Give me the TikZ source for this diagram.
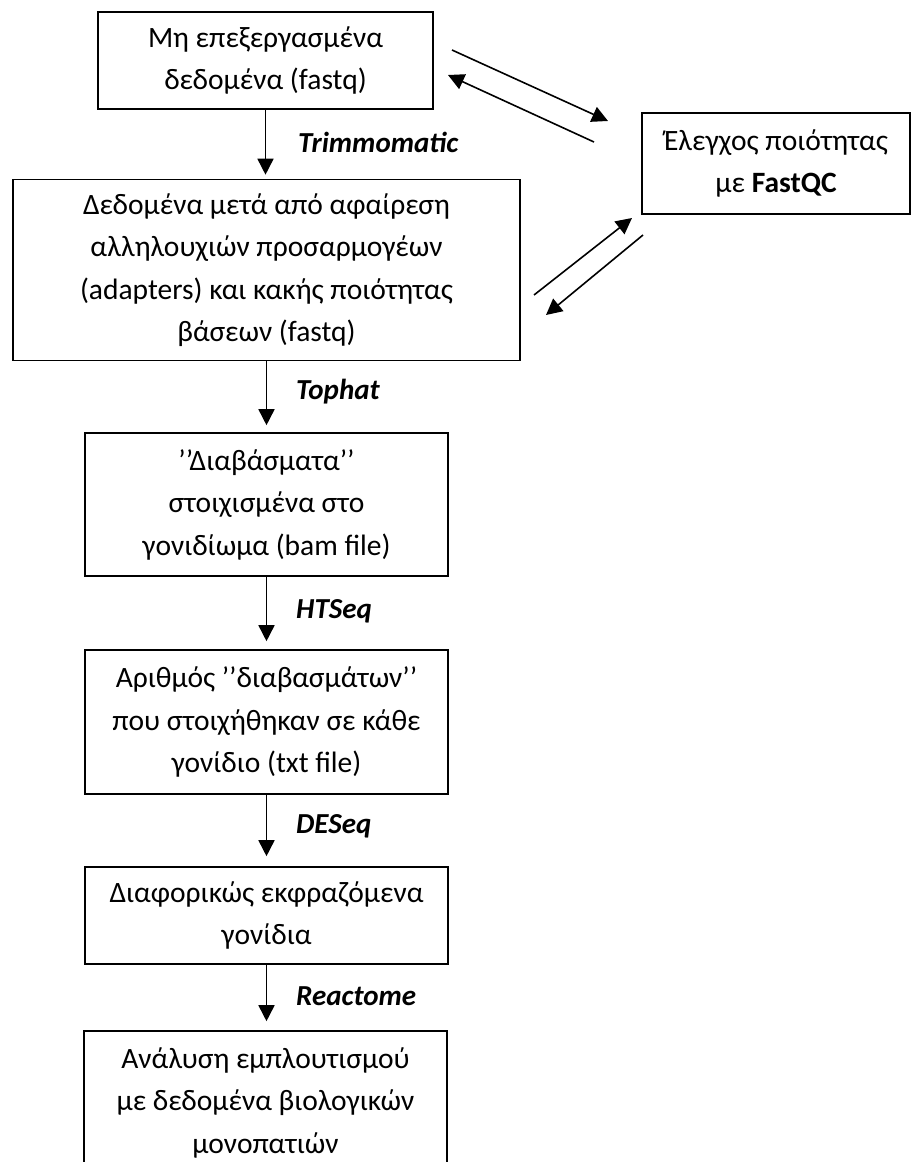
\documentclass[tikz,border=0pt]{standalone}
\usepackage{fontspec}
\setmainfont{Carlito}
\usetikzlibrary{arrows.meta}
\begin{document}
\begin{tikzpicture}[x=1pt,y=-1pt,
  box/.style={draw, line width=1.6pt, align=center, inner sep=0pt, font=\fontsize{29.5}{42.5}\selectfont},
  arr/.style={line width=1.6pt, -{Triangle[length=16pt,width=16pt]}},
  lbl/.style={font=\fontsize{29}{34}\selectfont\bfseries\itshape, anchor=base west, inner sep=0pt}]
\useasboundingbox (0,0) rectangle (911,1162);
\clip (0,0) rectangle (911,1162);
\node[box, minimum width=335pt, minimum height=97pt] (b1) at (265.5,60.5) {Μη επεξεργασμένα\\δεδομένα (fastq)};
\node[box, minimum width=507pt, minimum height=181pt] (b2) at (266.5,270) {Δεδομένα μετά από αφαίρεση\\αλληλουχιών προσαρμογέων\\(adapters) και κακής ποιότητας\\βάσεων (fastq)};
\node[box, minimum width=363pt, minimum height=143pt] (b3) at (266.5,504.5) {’\kern0pt’Διαβάσματα’\kern0pt’\\στοιχισμένα στο\\γονιδίωμα (bam file)};
\node[box, minimum width=363pt, minimum height=144pt] (b4) at (266.5,722) {Αριθμός ’\kern0pt’διαβασμάτων’\kern0pt’\\που στοιχήθηκαν σε κάθε\\γονίδιο (txt file)};
\node[box, minimum width=363pt, minimum height=97pt] (b5) at (266.5,915.5) {Διαφορικώς εκφραζόμενα\\γονίδια};
\node[box, minimum width=363pt, minimum height=143pt] (b6) at (265.5,1102.5) {Ανάλυση εμπλουτισμού\\με δεδομένα βιολογικών\\μονοπατιών};
\node[box, minimum width=268pt, minimum height=101pt] (fq) at (776,163.5) {Έλεγχος ποιότητας\\με \textbf{FastQC}};
\node[lbl] (l1) at (298,152) {Trimmomatic};
\node[lbl] (l2) at (296,399) {Tophat};
\node[lbl] (l3) at (296,618) {HTSeq};
\node[lbl] (l4) at (296,833) {DESeq};
\node[lbl] (l5) at (296,1005) {Reactome};
\draw[arr, shorten >=4pt] (b1.south) -- (b1.south |- b2.north);
\draw[arr, shorten >=7pt] (b2.south) -- (b2.south |- b3.north);
\draw[arr, shorten >=8pt] (b3.south) -- (b3.south |- b4.north);
\draw[arr, shorten >=10pt] (b4.south) -- (b4.south |- b5.north);
\draw[arr, shorten >=9pt] (b5.south) -- (b5.south |- b6.north);
\coordinate (a1s) at (452,50); \coordinate (a1e) at (608,121);
\coordinate (a2s) at (594,142); \coordinate (a2e) at (448,75);
\coordinate (a3s) at (534,295); \coordinate (a3e) at (632,218);
\coordinate (a4s) at (643,235); \coordinate (a4e) at (546,315);
\draw[arr] (a1s) -- (a1e);
\draw[arr] (a2s) -- (a2e);
\draw[arr] (a3s) -- (a3e);
\draw[arr] (a4s) -- (a4e);
\end{tikzpicture}
\end{document}
